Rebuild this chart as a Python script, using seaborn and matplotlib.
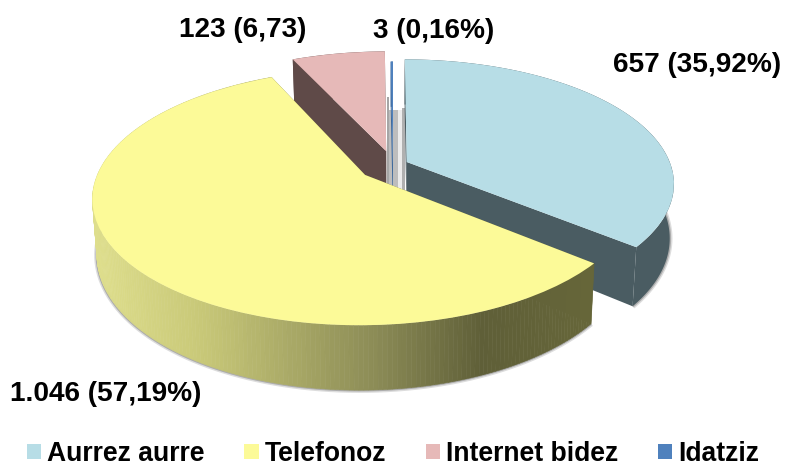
import numpy as np
import seaborn as sns
import matplotlib.pyplot as plt
import matplotlib.transforms as mtrans
from matplotlib.colors import LinearSegmentedColormap

#Data
categories = ['Aurrez aurre', 'Telefonoz', 'Internet bidez', 'Idatziz']
values = [657, 1046, 123, 3]
value_labels = ['657 (35,92%)', '1.046 (57,19%)', '123 (6,73)', '3 (0,16%)']

#Styles
top_colors = sns.color_palette(['#b7dde6', '#fcfa98', '#e6b9b8', '#4f81bd'])
wall_colors = ['#4a5c62', '#666639', '#5f4a48', '#3f6a9c']
explode = [0.058, 0.132, 0.12, 0.0]
label_pos = [(697, 65), (106, 394), (243, 30), (434, 31)]
draw_order = [2, 3, 0, 1]

#Fake 3d view, pie units to pixels
X0, Y0 = 393, 165
A, B = 264, 121
K = 0.17
DEPTH = 53


def project(u, v, low=False):
    s = 1 / (1 + K * v)
    sx = A * u * s
    sy = -B * v * s
    if low:
        sx = sx * 0.985
        sy = sy + DEPTH * s
    return X0 + sx, Y0 + sy


class Persp(mtrans.Transform):
    input_dims = 2
    output_dims = 2

    def transform_non_affine(self, values):
        sx, sy = project(values[:, 0], values[:, 1])
        return np.column_stack([sx, sy])


sns.set_theme(style='white')
plt.rcParams['font.family'] = ['Liberation Sans', 'DejaVu Sans']
plt.rcParams['font.weight'] = 'bold'

fig = plt.figure(figsize=(7.87, 4.68), dpi=100)
ax = fig.add_axes([0, 0, 1, 1])

wedges, _ = ax.pie(values, colors=top_colors, startangle=90, counterclock=False,
                   explode=explode, radius=1, wedgeprops={'linewidth': 0})
ax.set_aspect('auto')
ax.set_xlim(0, 787)
ax.set_ylim(468, 0)
ax.axis('off')

persp = Persp()
yellow_wall = LinearSegmentedColormap.from_list(
    'wall', [(0, '#dede8c'), (0.21, '#c8c878'), (0.57, '#8a8a55'),
             (0.78, '#5f5f38'), (1, '#666639')])

#Shadow stripes in the gap between the slices
ax.fill([387, 389, 389, 387], [97, 97, 190, 190], color='#a6a6a6', lw=0, zorder=1)
ax.fill([389, 398, 398, 389], [110, 110, 195, 195], color='#bdbdbd', lw=0, zorder=1)
ax.fill([398, 402, 402, 398], [110, 110, 195, 195], color='#ececec', lw=0, zorder=1)
ax.fill([402, 405, 405, 402], [108, 108, 190, 190], color='#b0b0b0', lw=0, zorder=1)

for i, w in enumerate(wedges):
    z = 2 + 3 * draw_order[i]
    cu, cv = w.center
    th = np.radians(np.linspace(w.theta1, w.theta2, 240))
    u = cu + np.cos(th)
    v = cv + np.sin(th)

    #Soft edge under the wall
    if i < 2:
        front = np.sin(th) < 0.1
        lx, ly = project(u[front], v[front], low=True)
        ax.plot(lx, ly, color='#555555', lw=4, alpha=0.2, zorder=z, solid_capstyle='butt')
        ax.plot(lx, ly, color='#555555', lw=2, alpha=0.35, zorder=z, solid_capstyle='butt')

    #Cut faces
    for t in (th[0], th[-1]):
        eu = cu + np.cos(t)
        ev = cv + np.sin(t)
        x1, y1 = project(np.array([cu, eu]), np.array([cv, ev]))
        x2, y2 = project(np.array([eu, cu]), np.array([ev, cv]), low=True)
        ax.fill(np.r_[x1, x2], np.r_[y1, y2], color=wall_colors[i], lw=0, zorder=z)

    #Outer wall
    tx, ty = project(u, v)
    bx, by = project(u, v, low=True)
    if i == 1:
        for j in range(len(th) - 1):
            c = yellow_wall(np.clip((tx[j] - 95) / 495, 0, 1))
            ax.fill([tx[j], tx[j + 1], bx[j + 1], bx[j]],
                    [ty[j], ty[j + 1], by[j + 1], by[j]],
                    facecolor=c, edgecolor=c, lw=0.4, zorder=z + 1)
    else:
        ax.fill(np.r_[tx, bx[::-1]], np.r_[ty, by[::-1]],
                color=wall_colors[i], lw=0, zorder=z + 1)

    #Top of the slice
    w.set_transform(persp + ax.transData)
    w.set_clip_on(False)
    w.set_zorder(z + 2)

for text, (x, y) in zip(value_labels, label_pos):
    ax.text(x, y, text, ha='center', va='center', fontsize=20.2,
            fontweight='bold', color='black', zorder=30)

leg = ax.legend(wedges, categories, loc='lower left', bbox_to_anchor=(27 / 787, 0.002),
                ncol=4, frameon=False, fontsize=19.1, borderaxespad=0, borderpad=0,
                handlelength=0.53, handleheight=0.53, handletextpad=0.23,
                columnspacing=1.5, labelcolor='black')
leg.set_zorder(30)

plt.savefig('out.png', dpi=100)
